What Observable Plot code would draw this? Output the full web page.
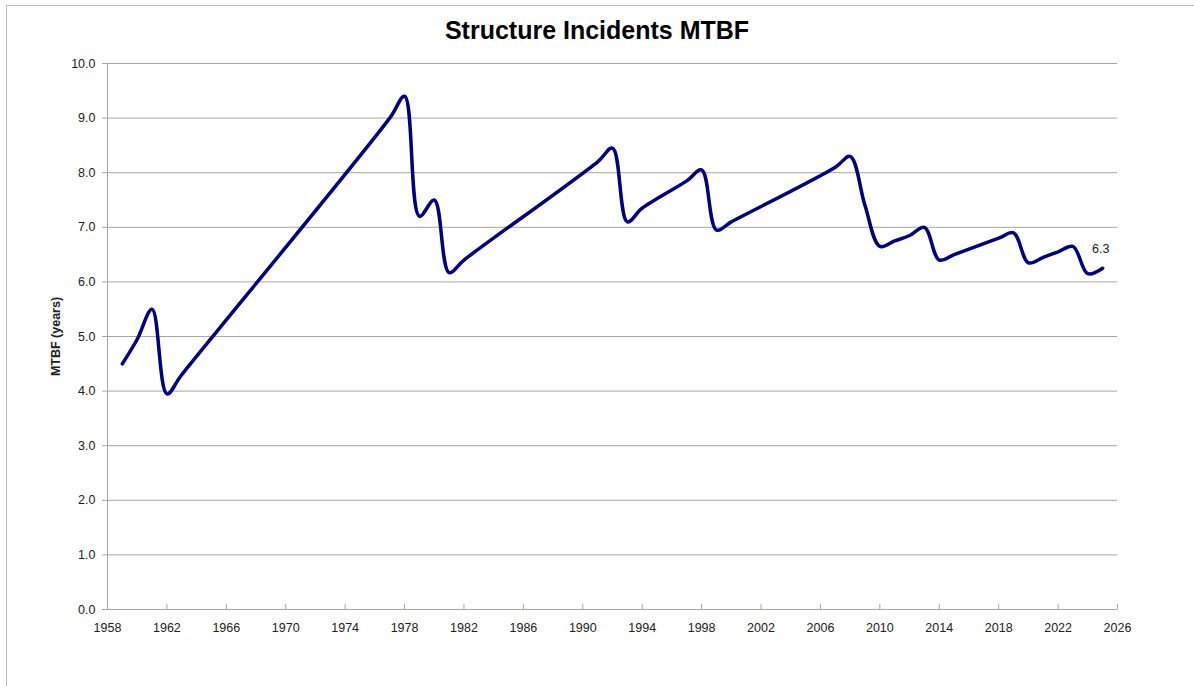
<!DOCTYPE html>
<html>
<head>
<meta charset="utf-8">
<script src="https://cdn.jsdelivr.net/npm/d3@7"></script>
<script src="https://cdn.jsdelivr.net/npm/@observablehq/plot@0.6"></script>
<style>
  html, body { margin: 0; padding: 0; background: #fff; }
  #wrap { position: relative; width: 1194px; height: 686px; overflow: hidden; font-family: "Liberation Sans", Arial, sans-serif; }
  #frame { position: absolute; left: 6px; top: 5px; width: 1200px; height: 700px; border-left: 1px solid #bdbdbd; border-top: 1px solid #bdbdbd; }
  #title { position: absolute; left: 0; width: 1194px; top: 16px; text-align: center; font-weight: bold; font-size: 25px; color: #000; font-family: "Liberation Sans", Arial, sans-serif; }
  #chart { position: absolute; left: 0; top: 0; }
  #chart svg [aria-label="y-axis label"] text { font-weight: bold; }
</style>
</head>
<body>
<div id="wrap">
  <div id="frame"></div>
  <div id="chart"></div>
  <div id="title">Structure Incidents MTBF</div>
</div>
<script>
const years = [1959,1960,1961,1962,1963,1977,1978,1979,1980,1981,1982,1991,1992,1993,1994,1997,1998,1999,2000,2007,2008,2009,2010,2011,2012,2013,2014,2015,2018,2019,2020,2021,2022,2023,2024,2025];
const mtbf  = [4.5,4.95,5.5,3.95,4.3,9.0,9.4,7.2,7.5,6.17,6.4,8.2,8.45,7.1,7.35,7.85,8.05,6.95,7.1,8.1,8.3,7.4,6.65,6.75,6.85,7.0,6.4,6.5,6.8,6.9,6.35,6.45,6.55,6.65,6.15,6.25];
const xTicks = d3.range(1958, 2027, 4);
const yTicks = d3.range(0, 11, 1);
const lastLabel = "6.3";

const data = years.map((y, i) => ({year: y, value: mtbf[i]}));
const last = data[data.length - 1];

const chart = Plot.plot({
  width: 1194,
  height: 686,
  marginLeft: 107,
  marginRight: 77,
  marginTop: 63,
  marginBottom: 77,
  style: {fontFamily: "'Liberation Sans', Arial, sans-serif", fontSize: "12.5px", background: "transparent"},
  x: {domain: [1958, 2026], ticks: xTicks, tickFormat: "d"},
  y: {domain: [0, 10], ticks: yTicks},
  marks: [
    Plot.ruleY(yTicks.filter(d => d > 0), {stroke: "#a6a6a6", strokeWidth: 1}),
    Plot.ruleX([1958], {stroke: "#a6a6a6", strokeWidth: 1}),
    Plot.ruleY([0], {stroke: "#a6a6a6", strokeWidth: 1}),
    Plot.ruleX(xTicks, {y1: 0, y2: 0, insetTop: -5, stroke: "#a6a6a6", strokeWidth: 1}),
    Plot.axisY({ticks: yTicks, tickFormat: d => d.toFixed(1), tickSize: 5, tickPadding: 7, stroke: "#a6a6a6", color: "#222", fontSize: 12.5, label: "MTBF (years)", labelAnchor: "center", labelArrow: "none", labelOffset: 56}),
    Plot.axisX({ticks: xTicks, tickFormat: "d", tickSize: 0, tickPadding: 14, color: "#222", fontSize: 12.5, label: null}),
    Plot.line(data, {x: "year", y: "value", stroke: "#000080", strokeWidth: 3.5, curve: "catmull-rom"}),
    Plot.text([last], {x: "year", y: "value", text: () => lastLabel, dy: -19, dx: -2, fontSize: 12.5, fill: "#222"})
  ]
});
document.getElementById("chart").appendChild(chart);
</script>
</body>
</html>
